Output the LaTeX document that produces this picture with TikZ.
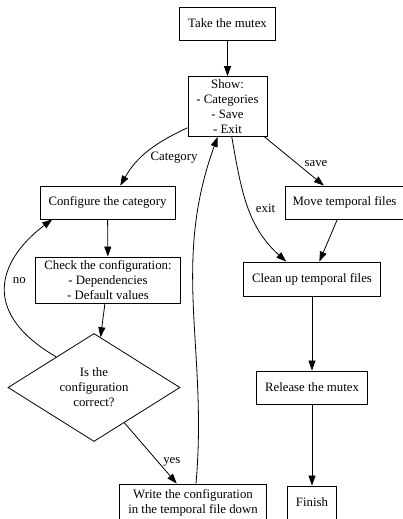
\documentclass[tikz,border=0pt]{standalone}
\usepackage{fontspec}
\setmainfont{Liberation Serif}
\usetikzlibrary{arrows.meta}
\usetikzlibrary{shapes.geometric}

\begin{document}
\begin{tikzpicture}[x=1pt, y=1pt,
	box/.style={draw, rectangle, align=center, line width=0.8pt, inner xsep=8.5pt, inner ysep=3.5pt, minimum height=33pt, font=\fontsize{12.8}{15}\selectfont},
	decision/.style={draw, diamond, align=center, line width=0.8pt, inner sep=0pt, minimum width=172pt, minimum height=99pt, font=\fontsize{12.8}{15}\selectfont},
	flow/.style={line width=0.8pt, -{Triangle[length=10pt, width=7pt]}},
	lbl/.style={font=\fontsize{12.8}{15}\selectfont, inner sep=1pt}]

\useasboundingbox (0, 0) rectangle (403, 519);

\node[box] (take) at (227.5, 495.5) {Take the mutex};
\node[box, inner ysep=3pt] (show) at (227.5, 412.5) {Show:\\- Categories\\- Save\\- Exit};
\node[box] (conf) at (107.5, 316.5) {Configure the category};
\node[box, inner xsep=7pt] (move) at (344.5, 316.5) {Move temporal files};
\node[box] (check) at (108, 239) {Check the configuration:\\- Dependencies\\- Default values};
\node[box, minimum height=34pt] (clean) at (312, 240) {Clean up temporal files};
\node[decision] (correct) at (94, 131.5) {Is the\\configuration\\correct?};
\node[box] (release) at (312, 131.5) {Release the mutex};
\node[box, inner ysep=5pt, minimum height=37pt] (write) at (193, 16.5) {Write the configuration\\in the temporal file down};
\node[box] (finish) at (312, 16.5) {Finish};

\draw[flow] (take) -- (show);
\draw[flow] (show.208) to[out=205, in=60] node[lbl, pos=0.62, anchor=west, xshift=8pt] {Category} (conf.53);
\draw[flow] (show) -- node[lbl, pos=0.55, anchor=west, xshift=6pt] {save} (move);
\draw[flow] (show.-82) to[out=-80, in=138] node[lbl, pos=0.52, anchor=west, xshift=6pt] {exit} (clean.146);
\draw[flow] (move) -- (clean);
\draw[flow] (conf) -- (check);
\draw[flow] (check) -- (correct);
\draw[flow] (correct.141) .. controls +(-82, 48) and +(-48, -36) .. node[lbl, pos=0.5, anchor=west, xshift=6pt, yshift=3pt] {no} (conf.197);
\draw[flow] (correct) -- node[lbl, pos=0.64, anchor=west, xshift=4pt] {yes} (write);
\draw[flow] (write.81) to[out=85, in=-110] (show.-108);
\draw[flow] (clean) -- (release);
\draw[flow] (release) -- (finish);

\end{tikzpicture}
\end{document}
